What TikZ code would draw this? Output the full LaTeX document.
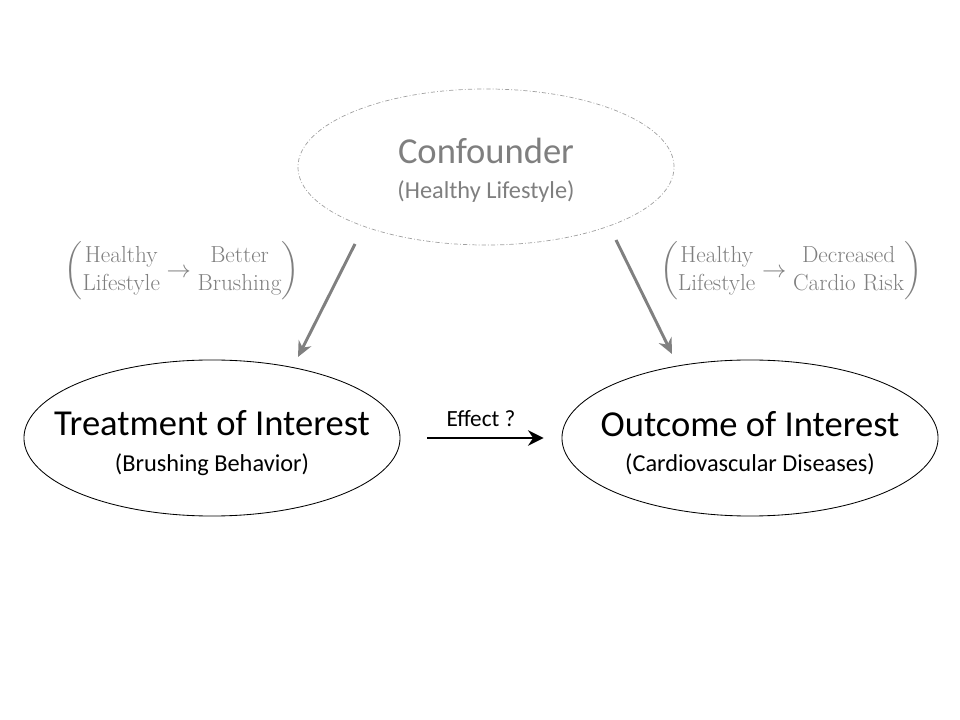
\documentclass[tikz,border=0pt]{standalone}
\usepackage{amsmath}
\usepackage{fontspec}
\setsansfont{Carlito}
\usetikzlibrary{arrows.meta,shapes.geometric}
\definecolor{confgray}{RGB}{127,127,127}
\definecolor{dashgray}{RGB}{160,160,160}
\definecolor{arrowgray}{RGB}{128,128,128}

\begin{document}
\begin{tikzpicture}[x=0.025cm, y=-0.025cm,
  bubble/.style={ellipse, draw, line width=0.6pt, minimum width=9.4cm, minimum height=3.9cm},
  title/.style={align=center, font=\sffamily\fontsize{26}{30}\selectfont},
  pathlbl/.style={text=confgray, font=\fontsize{16.5}{20}\selectfont},
  grayarrow/.style={-{Stealth[length=11pt, width=10pt]}, arrowgray, line width=2.1pt},
  effarrow/.style={-{Stealth[length=11pt, width=11pt]}, line width=2.1pt}]
\useasboundingbox (0,0) rectangle (960,720);

% ellipses
\node[bubble, draw=dashgray, line width=0.5pt,
      dash pattern=on 3pt off 1.5pt on 0.6pt off 1.5pt] (conf) at (486,167) {};
\node[bubble] (treat) at (212,438) {};
\node[bubble] (outc) at (750,438) {};

% texts inside
\node[title, text=confgray] (conftxt) at (486,170)
  {Confounder\\[-5pt]{\fontsize{17.3}{20}\selectfont (Healthy Lifestyle)}};
\node[title] (treattxt) at (212,443)
  {Treatment of Interest\\[-5pt]{\fontsize{17.3}{20}\selectfont (Brushing Behavior)}};
\node[title] (outctxt) at (750,443)
  {Outcome of Interest\\[-5pt]{\fontsize{17.3}{20}\selectfont (Cardiovascular Diseases)}};

% confounding paths
\coordinate (lstart) at (355,244);
\coordinate (lend) at (298,357);
\coordinate (rstart) at (616,240);
\coordinate (rend) at (672,354);
\draw[grayarrow] (lstart) -- (lend);
\draw[grayarrow] (rstart) -- (rend);

\node[pathlbl] (leftlbl) at (182,271) {$
  \left(\begin{matrix}\text{Healthy}\\ \text{Lifestyle}\end{matrix}
  \rightarrow
  \begin{matrix}\text{Better}\\ \text{Brushing}\end{matrix}\right)$};
\node[pathlbl] (rightlbl) at (791,271) {$
  \left(\begin{matrix}\text{Healthy}\\ \text{Lifestyle}\end{matrix}
  \rightarrow
  \begin{matrix}\text{Decreased}\\ \text{Cardio Risk}\end{matrix}\right)$};

% effect
\draw[effarrow, shorten <=0.675cm, shorten >=0.45cm] (treat.east) -- (outc.west)
  node[midway, above=4pt, font=\sffamily\fontsize{16.5}{20}\selectfont] (efflbl) {Effect ?};
\end{tikzpicture}
\end{document}
